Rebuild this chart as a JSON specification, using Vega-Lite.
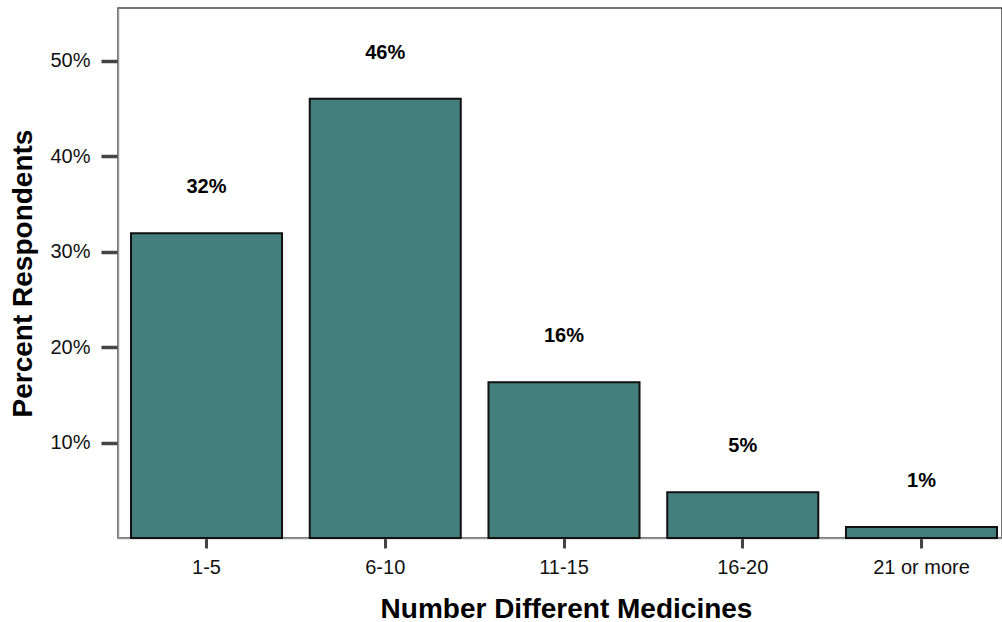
{
  "$schema": "https://vega.github.io/schema/vega-lite/v6.json",
  "autosize": "none",
  "width": 884,
  "height": 530,
  "padding": {"left": 118, "top": 8, "right": 0, "bottom": 84},
  "background": "white",
  "config": {
    "view": {"stroke": "#444444", "strokeWidth": 1.5},
    "font": "Liberation Sans"
  },
  "data": {
    "values": [
      {"group": "1-5", "pct": 31.9, "label": "32%"},
      {"group": "6-10", "pct": 46.0, "label": "46%"},
      {"group": "11-15", "pct": 16.3, "label": "16%"},
      {"group": "16-20", "pct": 4.8, "label": "5%"},
      {"group": "21 or more", "pct": 1.15, "label": "1%"}
    ]
  },
  "encoding": {
    "x": {
      "field": "group",
      "type": "nominal",
      "sort": null,
      "scale": {"paddingInner": 0.155, "paddingOuter": 0.0727, "range": [0, 892]},
      "axis": {
        "title": "Number Different Medicines",
        "titleFont": "Liberation Sans",
        "titleFontSize": 28,
        "titleFontWeight": "bold",
        "titleColor": "#000000",
        "titleX": 448,
        "titleY": 79,
        "titleBaseline": "alphabetic",
        "titleAlign": "center",
        "labelFont": "Liberation Sans",
        "labelFontSize": 20,
        "labelColor": "#111111",
        "labelAngle": 0,
        "labelPadding": 9,
        "tickSize": 10,
        "tickWidth": 3,
        "tickColor": "#444444",
        "domainColor": "#999999",
        "domainWidth": 1.5
      }
    },
    "y": {
      "field": "pct",
      "type": "quantitative",
      "scale": {"domain": [0, 55.5], "nice": false},
      "axis": {
        "title": "Percent  Respondents",
        "titleFont": "Liberation Sans",
        "titleFontSize": 28,
        "titleFontWeight": "bold",
        "titleColor": "#000000",
        "titleAngle": -90,
        "titleX": -87,
        "titleY": 265,
        "titleBaseline": "alphabetic",
        "titleAlign": "center",
        "values": [10, 20, 30, 40, 50],
        "labelExpr": "datum.value + '%'",
        "labelFont": "Liberation Sans",
        "labelFontSize": 20,
        "labelColor": "#111111",
        "labelPadding": 11,
        "tickSize": 17,
        "tickWidth": 3.5,
        "tickColor": "#444444",
        "domainColor": "#999999",
        "domainWidth": 1.5,
        "grid": false
      }
    }
  },
  "layer": [
    {
      "mark": {"type": "bar", "fill": "#447f7e", "stroke": "#111111", "strokeWidth": 2}
    },
    {
      "mark": {
        "type": "text",
        "baseline": "middle",
        "align": "center",
        "dy": -46,
        "font": "Liberation Sans",
        "fontSize": 20,
        "fontWeight": "bold",
        "color": "#000000"
      },
      "encoding": {"text": {"field": "label"}}
    }
  ]
}
